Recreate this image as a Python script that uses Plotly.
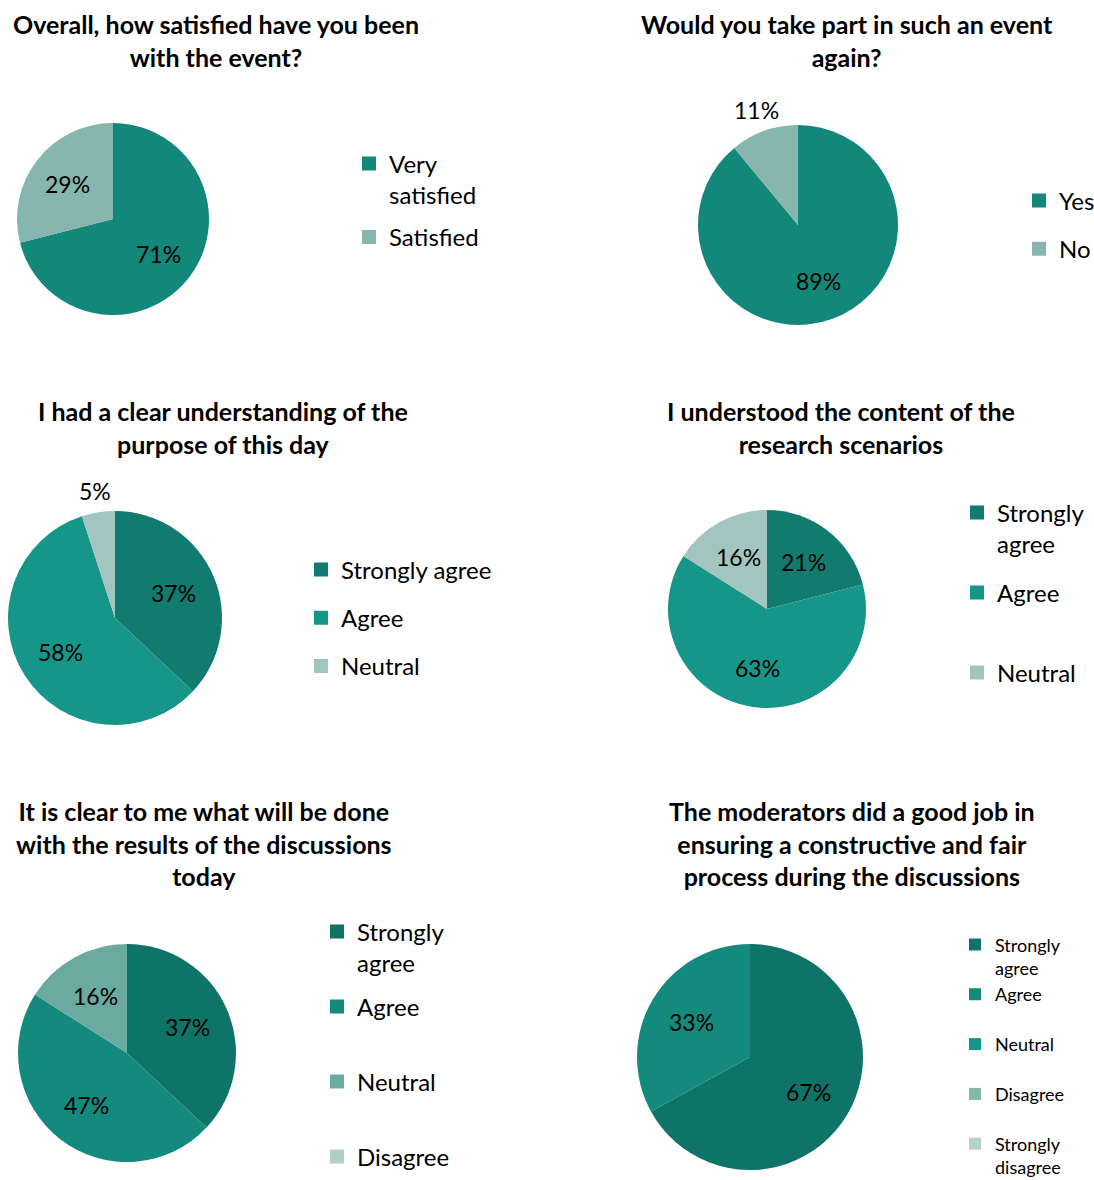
import math
import plotly.graph_objects as go

W, H = 1094, 1180
FONT = "Lato, 'Open Sans', sans-serif"

# ---------------- data ----------------
titles = [
    "Overall, how satisfied have you been<br>with the event?",
    "Would you take part in such an event<br>again?",
    "I had a clear understanding of the<br>purpose of this day",
    "I understood the content of the<br>research scenarios",
    "It is clear to me what will be done<br>with the results of the discussions<br>today",
    "The moderators did a good job in<br>ensuring a constructive and fair<br>process during the discussions",
]
labels1 = ["Very satisfied", "Satisfied"]
values1 = [71, 29]
labels2 = ["Yes", "No"]
values2 = [89, 11]
labels3 = ["Strongly agree", "Agree", "Neutral"]
values3 = [37, 58, 5]
labels4 = ["Strongly agree", "Agree", "Neutral"]
values4 = [21, 63, 16]
labels5 = ["Strongly agree", "Agree", "Neutral", "Disagree"]
values5 = [37, 47, 16, 0]
labels6 = ["Strongly agree", "Agree", "Neutral", "Disagree", "Strongly disagree"]
values6 = [67, 33, 0, 0, 0]

colors1 = ["#13877A", "#86B6AD"]
colors2 = ["#13877A", "#86B6AD"]
colors3 = ["#117B6F", "#169688", "#A2C5BF"]
colors4 = ["#117B6F", "#169688", "#A2C5BF"]
colors5 = ["#0F7468", "#138A7D", "#6BAAA0", "#B0CFCA"]
colors6 = ["#0F7468", "#138A7D", "#16968A", "#86B6AD", "#B6D2CE"]

# ---------------- layout specs (pixels) ----------------
charts = [
    dict(labels=labels1, values=values1, colors=colors1, cx=113, cy=219, r=96,
         outside=[False, False], leg_x=364, leg_y=164, leg_f=24, msize=14, gap=8, wrap=True, pad=0,
         title_x=216, title_y=41),
    dict(labels=labels2, values=values2, colors=colors2, cx=798, cy=225, r=100,
         outside=[False, True], leg_x=1034, leg_y=201, leg_f=24, msize=14, gap=14, wrap=False, pad=0,
         title_x=847, title_y=41),
    dict(labels=labels3, values=values3, colors=colors3, cx=115, cy=618, r=107,
         outside=[False, False, True], leg_x=316, leg_y=570, leg_f=24, msize=14, gap=14, wrap=False, pad=0,
         title_x=223, title_y=427),
    dict(labels=labels4, values=values4, colors=colors4, cx=767, cy=609, r=99,
         outside=[False] * 3, leg_x=972, leg_y=513, leg_f=24, msize=14, gap=14.6, wrap=True, pad=2,
         title_x=841, title_y=427),
    dict(labels=labels5, values=values5, colors=colors5, cx=127, cy=1053, r=109,
         outside=[False] * 4, leg_x=332, leg_y=932, leg_f=24, msize=14, gap=9.6, wrap=True, pad=2,
         title_x=204, title_y=843),
    dict(labels=labels6, values=values6, colors=colors6, cx=750, cy=1057, r=113,
         outside=[False] * 5, leg_x=970, leg_y=945, leg_f=18, msize=12, gap=0, wrap=True, pad=2,
         title_x=852, title_y=843),
]


def legend_text(label, wrap, pad):
    if wrap and " " in label:
        lines = label.split(" ", 1)
    else:
        lines = [label]
    while len(lines) < pad:
        lines.append(" ")
    return "<br>".join(lines)


fig = go.Figure()
layout_legends = {}
annotations = []
for i, c in enumerate(charts):
    lname = "legend" if i == 0 else f"legend{i + 1}"
    x0 = (c["cx"] - c["r"]) / W
    x1 = (c["cx"] + c["r"]) / W
    y0 = 1 - (c["cy"] + c["r"]) / H
    y1 = 1 - (c["cy"] - c["r"]) / H
    fig.add_trace(go.Pie(
        labels=c["labels"],
        values=c["values"],
        marker=dict(colors=c["colors"], line=dict(width=0)),
        sort=False,
        direction="clockwise",
        rotation=0,
        textinfo="none",
        domain=dict(x=[x0, x1], y=[y0, y1]),
        showlegend=False,
        hovertemplate="%{label}: %{value}%<extra></extra>",
    ))
    # legend entries (one per category, so spacing can follow the original)
    for j, (lab, col) in enumerate(zip(c["labels"], c["colors"])):
        fig.add_trace(go.Scatter(
            x=[None], y=[None], mode="markers",
            marker=dict(symbol="square", size=c["msize"], color=col),
            name=legend_text(lab, c["wrap"], c["pad"]),
            legend=lname, legendgroup=f"g{i}_{j}",
            showlegend=True, hoverinfo="skip",
        ))
    # data labels: placed along each slice's bisector (computed from the values)
    total = sum(c["values"])
    cum = 0
    for v, out in zip(c["values"], c["outside"]):
        if v > 0:
            ang = 2 * math.pi * (cum + v / 2) / total
            rr = c["r"] + 22 if out else 0.6 * c["r"]
            px = c["cx"] + rr * math.sin(ang)
            py = c["cy"] - rr * math.cos(ang)
            annotations.append(dict(
                text=f"{v}%", x=px / W, y=1 - py / H, xref="paper", yref="paper",
                xanchor="center", yanchor="middle", showarrow=False,
                font=dict(family=FONT, size=23, color="#000000"),
            ))
        cum += v
    f = c["leg_f"]
    layout_legends[lname] = dict(
        x=(c["leg_x"] - 15) / W,
        y=1 - (c["leg_y"] - 0.65 * f - 7) / H,
        xanchor="left", yanchor="top",
        font=dict(family=FONT, size=f, color="#000000"),
        bgcolor="rgba(0,0,0,0)",
        valign="top",
        itemwidth=30,
        traceorder="grouped",
        tracegroupgap=c["gap"],
    )
    annotations.append(dict(
        text=titles[i],
        x=c["title_x"] / W, y=1 - c["title_y"] / H,
        xref="paper", yref="paper",
        xanchor="center", yanchor="middle",
        showarrow=False,
        font=dict(family=FONT, size=25, color="#000000", weight="bold"),
    ))

fig.update_layout(
    width=W, height=H,
    margin=dict(l=0, r=0, t=0, b=0, autoexpand=False),
    paper_bgcolor="white",
    plot_bgcolor="white",
    xaxis=dict(visible=False),
    yaxis=dict(visible=False),
    annotations=annotations,
    **layout_legends,
)

fig.write_html("out.html")
